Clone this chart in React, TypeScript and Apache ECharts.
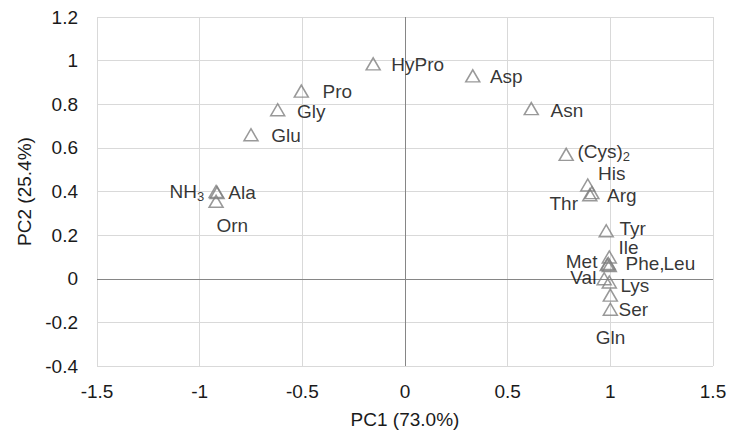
import { useEffect, useRef } from "react";
import * as echarts from "echarts";

// PCA loadings of amino acids (PC1 vs PC2)
const names = [
  "HyPro", "Asp", "Asn", "Cys2", "Pro", "Gly", "Glu", "NH3", "Ala", "Orn",
  "His", "Arg", "Thr", "Tyr", "Ile", "Met", "Phe", "Leu", "Val", "Lys", "Ser", "Gln",
];
const pc1 = [
  -0.155, 0.33, 0.615, 0.785, -0.505, -0.62, -0.75, -0.92, -0.915, -0.92,
  0.89, 0.91, 0.9, 0.98, 0.995, 0.985, 0.99, 0.995, 0.97, 0.995, 1.0, 1.0,
];
const pc2 = [
  0.985, 0.93, 0.78, 0.57, 0.86, 0.775, 0.66, 0.4, 0.395, 0.355,
  0.43, 0.395, 0.385, 0.22, 0.1, 0.065, 0.07, 0.06, 0.0, -0.015, -0.075, -0.14,
];
// rich-text label strings (subscripts via rich styles)
const labelTexts = [
  "HyPro", "Asp", "Asn", "(Cys){sub|2}", "Pro", "Gly", "Glu", "NH{sub|3}", "Ala", "Orn",
  "His", "Arg", "Thr", "Tyr", "Ile", "Met", "Phe,", "Leu", "Val", "Lys", "Ser", "Gln",
];

// label placement: [dx, dy, align] in pixels from the marker centre
const labelLayout: [number, number, string][] = [
  [19, 0, "left"], [18, 0, "left"], [20, 2, "left"], [12, -3, "left"],
  [22, 0, "left"], [20, 1, "left"], [21, 0, "left"], [-11, 0, "right"],
  [12, 0, "left"], [17, 24, "center"], [11, -12, "left"], [16, 3, "left"],
  [-11, 8, "right"], [14, -3, "left"], [10, -10, "left"], [-9, -3, "right"],
  [18, 0, "left"], [55, -2, "left"], [-7, -2, "right"], [12, 3, "left"],
  [9, 14, "left"], [1, 28, "center"],
];

const xTicks = { min: -1.5, max: 1.5, interval: 0.5 };
const yTicks = { min: -0.4, max: 1.2, interval: 0.2 };

const FONT = "'Liberation Sans', Arial, sans-serif";
const TEXT_SIZE = 19;

export default function App() {
  const ref = useRef<HTMLDivElement>(null);

  useEffect(() => {
    if (!ref.current) return;
    const chart = echarts.init(ref.current, undefined, { renderer: "svg" });
    const half = 7;
    const data = names.map((n, i) => {
      const [dx, dy, align] = labelLayout[i];
      return {
        name: n,
        value: [pc1[i], pc2[i]],
        label: {
          show: true,
          formatter: labelTexts[i],
          position: [half + dx, half + dy],
          align,
          verticalAlign: "middle",
        },
      };
    });
    chart.setOption({
      animation: false,
      backgroundColor: "#ffffff",
      grid: { left: 97, right: 22, top: 17, bottom: 77, containLabel: false },
      xAxis: {
        type: "value",
        ...xTicks,
        name: "PC1 (73.0%)",
        nameLocation: "middle",
        nameGap: 44,
        nameTextStyle: { fontFamily: FONT, fontSize: TEXT_SIZE, color: "#1a1a1a" },
        axisLine: { show: false },
        axisTick: { show: false },
        axisLabel: {
          margin: 16,
          fontFamily: FONT,
          fontSize: TEXT_SIZE,
          color: "#1a1a1a",
          formatter: (v: number) => String(v),
        },
        splitLine: { show: true, lineStyle: { color: "#d9d9d9", width: 1 } },
      },
      yAxis: {
        type: "value",
        ...yTicks,
        name: "PC2 (25.4%)",
        nameLocation: "middle",
        nameGap: 62,
        nameTextStyle: { fontFamily: FONT, fontSize: TEXT_SIZE, color: "#1a1a1a" },
        axisLine: { show: false },
        axisTick: { show: false },
        axisLabel: {
          margin: 19,
          fontFamily: FONT,
          fontSize: TEXT_SIZE,
          color: "#1a1a1a",
          formatter: (v: number) => String(Math.round(v * 10) / 10),
        },
        splitLine: { show: true, lineStyle: { color: "#d9d9d9", width: 1 } },
      },
      series: [
        {
          type: "scatter",
          symbol: "triangle",
          symbolSize: [14, 12],
          itemStyle: { color: "rgba(0,0,0,0)", borderColor: "#7f7f7f", borderWidth: 1.5 },
          label: {
            fontFamily: FONT,
            fontSize: TEXT_SIZE,
            color: "#000000",
            rich: {
              sub: {
                fontFamily: FONT,
                fontSize: 13,
                color: "#000000",
                verticalAlign: "bottom",
                padding: [9, 0, 0, 0],
              },
            },
          },
          data,
          markLine: {
            silent: true,
            symbol: "none",
            label: { show: false },
            lineStyle: { color: "#868686", width: 1, type: "solid" },
            data: [{ xAxis: 0 }, { yAxis: 0 }],
            z: 1,
          },
          z: 3,
        },
      ],
    });
    return () => chart.dispose();
  }, []);

  return <div ref={ref} style={{ width: 735, height: 443, margin: -8 }} />;
}
